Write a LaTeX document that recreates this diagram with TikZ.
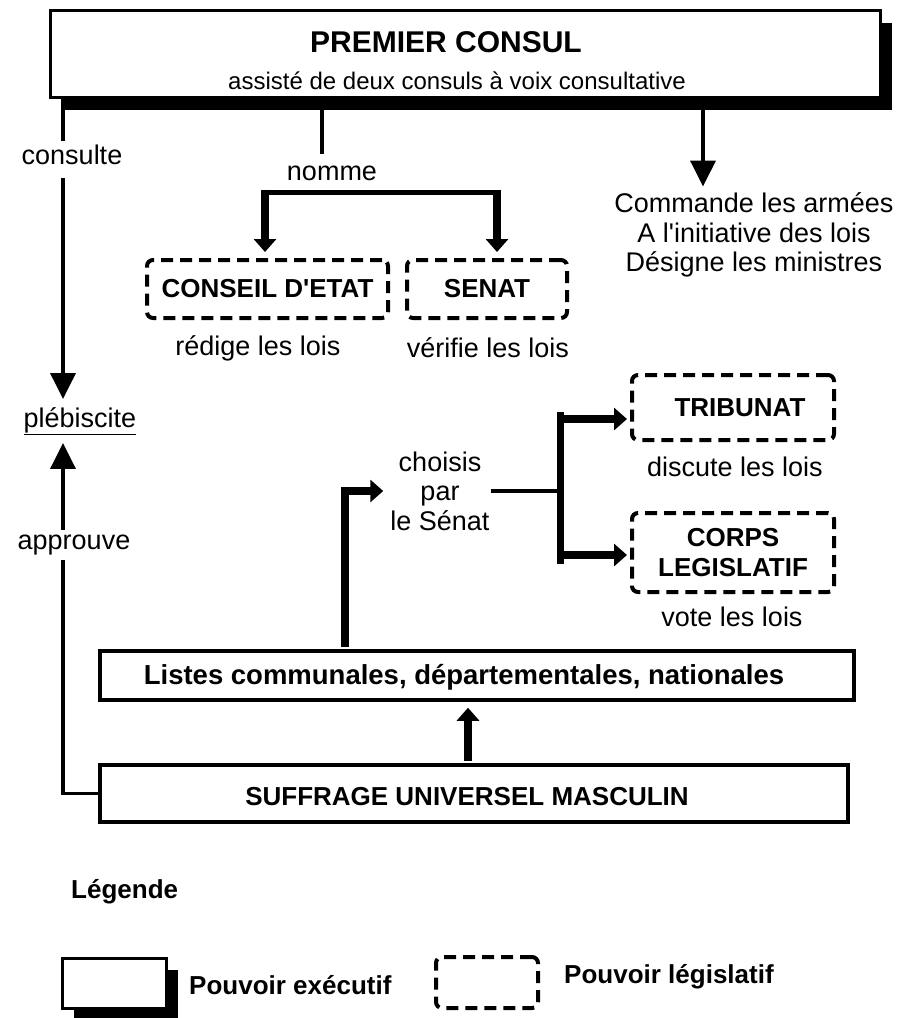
\documentclass[tikz,border=0pt]{standalone}
\usepackage{fontspec}
\setmainfont{Liberation Sans}
\newfontfamily\plainsans{Liberation Sans}
\usetikzlibrary{arrows.meta,shadows}
\tikzset{
  txt/.style={font=\plainsans\fontsize{27}{29.5}\selectfont, inner sep=2pt},
  btxt/.style={font=\plainsans\fontsize{26}{30}\selectfont\bfseries, inner sep=1pt},
  execbox/.style={draw, line width=3pt, fill=white,
    drop shadow={shadow xshift=12pt, shadow yshift=-12pt, fill=black, opacity=1}},
  plainbox/.style={draw, line width=3.5pt, fill=white},
  legisbox/.style={draw, line width=4pt, dash pattern=on 12pt off 7pt, rounded corners=6pt},
  thinline/.style={line width=3.5pt},
  bigarrow/.style={line width=3.5pt, -{Triangle[length=26pt,width=25pt]}},
  fatarrow/.style={line width=8pt, -{Triangle[length=13pt,width=22pt]}}
}

\begin{document}
\begin{tikzpicture}[x=1pt, y=-1pt]
  \useasboundingbox (0,0) rectangle (905,1018);

  % columns used by the connectors
  \coordinate (lcol) at (63,0);
  \coordinate (ncol) at (322,0);
  \coordinate (rcol) at (703,0);
  \coordinate (scol) at (345,0);
  \coordinate (mcol) at (468,0);

  % premier consul
  \node[execbox, minimum width=830pt, minimum height=87pt] (consul) at (465,54) {};
  \node[txt, font=\plainsans\fontsize{30}{32}\selectfont\bfseries] (premier) at (446,42) {PREMIER CONSUL};
  \node[txt, font=\plainsans\fontsize{24}{28}\selectfont] (assiste) at (457,81) {assisté de deux consuls à voix consultative};

  % plebiscite column
  \node[txt] (plebi) at (80,421) {\underline{plébiscite}};
  \node[txt, inner ysep=4pt] (consulte) at (72,155) {consulte};
  \node[txt, inner ysep=5pt] (approuve) at (74,545) {approuve};
  \draw[thinline] (consul.south -| lcol) -- (consulte.north -| lcol);
  \draw[bigarrow, shorten <=9pt, shorten >=6pt] (consulte.south -| lcol) -- (plebi.north -| lcol);

  % nomme
  \node[txt] (nomme) at (332,173) {nomme};
  \draw[thinline, shorten >=9pt] (consul.south -| ncol) -- (nomme.north -| ncol);
  \node[legisbox, btxt, minimum width=241pt, minimum height=58pt] (conseil) at (267.5,289) {CONSEIL D'ETAT};
  \node[legisbox, btxt, minimum width=160pt, minimum height=58pt] (senat) at (487,289) {SENAT};
  \node[txt] (redige) at (258,348) {rédige les lois};
  \node[txt] (verifie) at (488,348) {vérifie les lois};
  \coordinate (nl) at (265,192);
  \coordinate (nr) at (497,192);
  \draw[line width=5pt] (nl) -- (nr);
  \draw[fatarrow, shorten <=-2.5pt, shorten >=6pt] (nl) -- (conseil.north -| nl);
  \draw[fatarrow, shorten <=-2.5pt, shorten >=6pt] (nr) -- (senat.north -| nr);

  % pouvoirs du consul
  \node[txt, align=center] (powers) at (754,235) {Commande les armées\\A l'initiative des lois\\Désigne les ministres};
  \draw[bigarrow, shorten >=4pt] (consul.south -| rcol) -- (powers.north -| rcol);

  % assemblees
  \node[legisbox, btxt, minimum width=202pt, minimum height=65pt] (tribunat) at (733,407.5) {\hspace{14pt}TRIBUNAT};
  \node[txt] (discute) at (735,467) {discute les lois};
  \node[legisbox, btxt, align=center, minimum width=202pt, minimum height=79pt] (corps) at (733,552.5) {CORPS\\LEGISLATIF};
  \node[txt] (vote) at (732,617) {vote les lois};
  \node[txt, align=center, inner sep=1pt] (choisis) at (440,491) {choisis\\par\\le Sénat};
  \coordinate (bartop) at (560,419);
  \coordinate (barbot) at (560,555);
  \draw[thinline] (choisis.east) -- (choisis.east -| bartop);
  \draw[line width=7pt] (560,412) -- (560,564);
  \draw[fatarrow, shorten >=3pt] (bartop) -- (tribunat.west |- bartop);
  \draw[fatarrow, shorten >=3pt] (barbot) -- (corps.west |- barbot);

  % listes et suffrage
  \node[plainbox, minimum width=754pt, minimum height=49pt] (listes) at (477,675.5) {};
  \node[btxt, font=\plainsans\fontsize{27.5}{30}\selectfont\bfseries] (listestxt) at (464,677) {Listes communales, départementales, nationales};
  \node[plainbox, minimum width=748pt, minimum height=57pt] (suffrage) at (474,793.5) {};
  \node[btxt] (suffragetxt) at (467,797) {SUFFRAGE UNIVERSEL MASCULIN};
  \draw[fatarrow, shorten <=2pt, shorten >=6pt] (listes.north -| scol) |- (choisis.west);
  \draw[fatarrow, shorten <=2pt, shorten >=6pt] (suffrage.north -| mcol) -- (listes.south -| mcol);
  \draw[thinline] (suffrage.west) -| (approuve.south -| lcol);
  \draw[bigarrow, shorten >=6pt] (approuve.north -| lcol) -- (plebi.south -| lcol);

  % legende
  \node[btxt, anchor=west] (legende) at (70,892) {Légende};
  \node[execbox, minimum width=104pt, minimum height=50pt] (legexec) at (114,983) {};
  \node[btxt, anchor=west] (exectxt) at (188,985) {Pouvoir exécutif};
  \node[legisbox, minimum width=102pt, minimum height=51pt] (leglegis) at (487,982.5) {};
  \node[btxt, anchor=west] (legistxt) at (563,977) {Pouvoir législatif};
\end{tikzpicture}
\end{document}
